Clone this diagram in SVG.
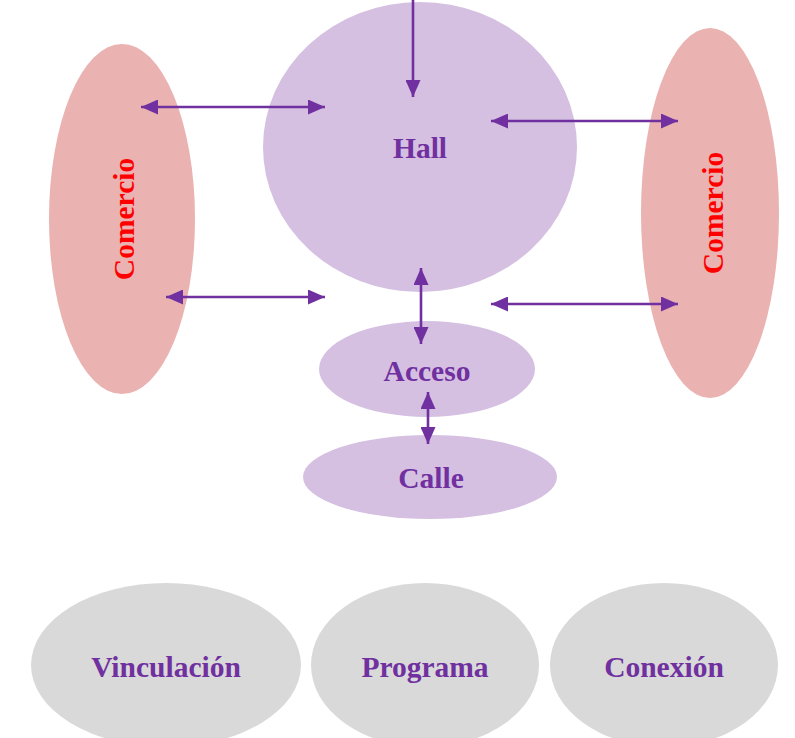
<svg xmlns="http://www.w3.org/2000/svg" width="795" height="738" viewBox="0 0 795 738">
  <style>
    .com { fill: #EAB3B1; }
    .lil { fill: #D5C0E2; }
    .gry { fill: #D9D9D9; }
    .lbl { font-family: "Liberation Serif", "Times New Roman", serif; font-weight: bold; font-size: 29.5px; text-anchor: middle; fill: #7030A0; }
    .red { fill: #FF0000; }
    .con line { stroke: #7030A0; stroke-width: 2.6; fill: none; }
  </style>
  <defs>
    <marker id="big" viewBox="0 0 10 10" refX="10" refY="5" markerWidth="17" markerHeight="15" markerUnits="userSpaceOnUse" orient="auto-start-reverse" preserveAspectRatio="none">
      <path d="M0,0 L10,5 L0,10 z" fill="#7030A0"/>
    </marker>
  </defs>

  <g id="comercio-izq">
    <ellipse class="com" cx="122" cy="219" rx="73" ry="175"/>
    <text class="lbl red" transform="translate(134,219) rotate(-90)">Comercio</text>
  </g>
  <g id="comercio-der">
    <ellipse class="com" cx="710" cy="213" rx="69" ry="185"/>
    <text class="lbl red" transform="translate(723,213) rotate(-90)">Comercio</text>
  </g>
  <g id="hall">
    <ellipse class="lil" cx="420" cy="147" rx="157" ry="145"/>
    <text class="lbl" x="420" y="158">Hall</text>
  </g>
  <g id="acceso">
    <ellipse class="lil" cx="427" cy="369" rx="108" ry="48"/>
    <text class="lbl" x="427" y="381">Acceso</text>
  </g>
  <g id="calle">
    <ellipse class="lil" cx="430" cy="477" rx="127" ry="42"/>
    <text class="lbl" x="431" y="488">Calle</text>
  </g>
  <g id="vinculacion">
    <ellipse class="gry" cx="166" cy="665" rx="135" ry="82"/>
    <text class="lbl" x="166" y="677">Vinculación</text>
  </g>
  <g id="programa">
    <ellipse class="gry" cx="425" cy="665" rx="114" ry="82"/>
    <text class="lbl" x="425" y="677">Programa</text>
  </g>
  <g id="conexion">
    <ellipse class="gry" cx="664" cy="665" rx="114" ry="82"/>
    <text class="lbl" x="664" y="677">Conexión</text>
  </g>

  <g id="connectors" class="con">
    <line x1="413" y1="0" x2="413" y2="97" marker-end="url(#big)"/>
    <line x1="141" y1="107" x2="325" y2="107" marker-start="url(#big)" marker-end="url(#big)"/>
    <line x1="166" y1="297" x2="325" y2="297" marker-start="url(#big)" marker-end="url(#big)"/>
    <line x1="491" y1="121" x2="678" y2="121" marker-start="url(#big)" marker-end="url(#big)"/>
    <line x1="491" y1="304" x2="678" y2="304" marker-start="url(#big)" marker-end="url(#big)"/>
    <line x1="421" y1="268" x2="421" y2="344" marker-start="url(#big)" marker-end="url(#big)"/>
    <line x1="428" y1="392" x2="428" y2="444" marker-start="url(#big)" marker-end="url(#big)"/>
  </g>
</svg>
